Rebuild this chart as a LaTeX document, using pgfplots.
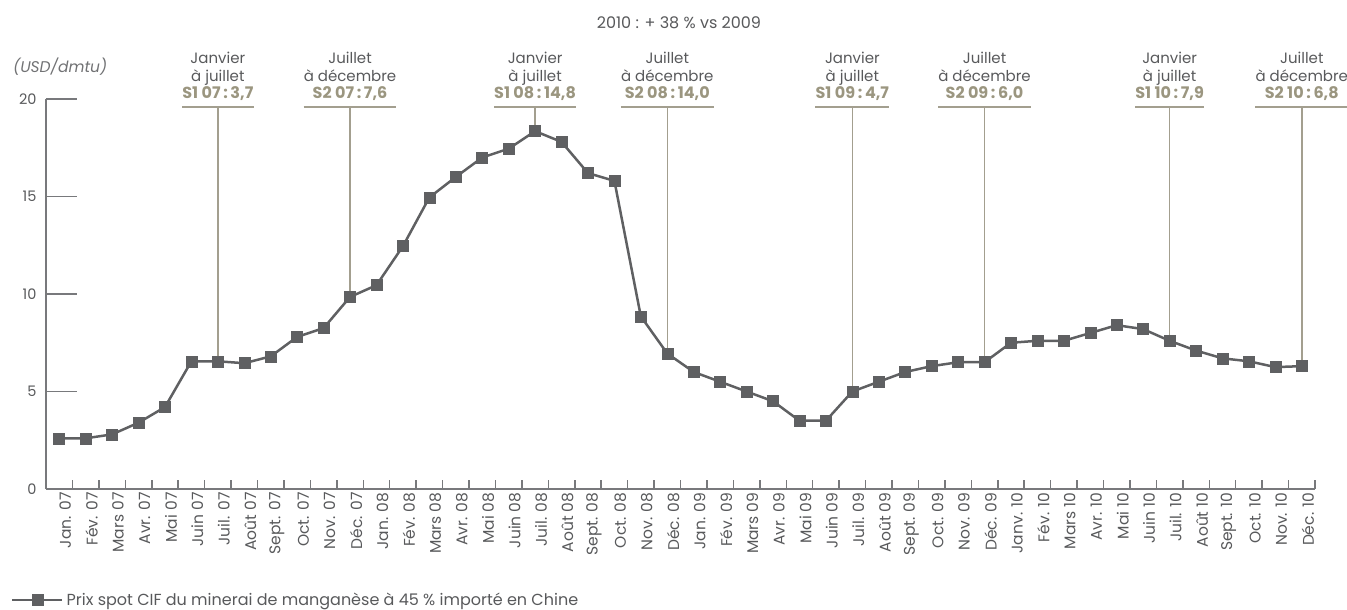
\documentclass[border=0pt]{standalone}
\usepackage{pgfplots}
\pgfplotsset{compat=1.18}
\usepackage{fontspec}
\setmainfont{Poppins}
\definecolor{txt}{RGB}{88,89,91}
\definecolor{tanc}{RGB}{155,150,128}
\definecolor{tanl}{RGB}{163,159,143}
\definecolor{ser}{RGB}{95,96,98}
\definecolor{axc}{RGB}{120,121,124}

\pgfplotstableread{
x y
0 2.6
1 2.6
2 2.8
3 3.4
4 4.2
5 6.55
6 6.55
7 6.45
8 6.8
9 7.8
10 8.25
11 9.85
12 10.45
13 12.45
14 14.95
15 16.0
16 17.0
17 17.45
18 18.35
19 17.8
20 16.2
21 15.8
22 8.85
23 6.95
24 6.0
25 5.5
26 5.0
27 4.5
28 3.5
29 3.5
30 5.0
31 5.5
32 6.0
33 6.3
34 6.5
35 6.5
36 7.5
37 7.6
38 7.6
39 8.0
40 8.4
41 8.2
42 7.6
43 7.1
44 6.7
45 6.55
46 6.25
47 6.3
}\datatable

\newcommand{\annot}[4]{%
 \draw[tanl, line width=1.5pt] (axis cs:#1,#2) -- (axis cs:#1,19.6);
 \coordinate (top#1) at (axis cs:#1,19.6);
 \node[anchor=south, align=center, inner sep=0pt, yshift=6pt, font=\fontsize{15}{17.5}\selectfont, text=txt] (lab#1) at (top#1) {#3\\{\fontsize{16}{17.5}\selectfont\bfseries\color{tanc}#4}};
 \draw[tanl, line width=1.5pt] (lab#1.west |- top#1) -- (lab#1.east |- top#1);
}

\begin{document}
\begin{tikzpicture}
\begin{axis}[
  name=ax,
  scale only axis,
  width=1269pt, height=390pt,
  xmin=-0.5, xmax=47.5, ymin=0, ymax=20,
  clip=false,
  axis x line=bottom, axis y line=left,
  axis line style={-, axc, line width=1.5pt},
  tick align=inside,
  ytick={0,5,10,15,20},
  major tick length=31pt,
  minor tick length=9pt,
  xtick={0,...,47},
  major x tick style={draw=none},
  minor xtick={0.5,1.5,...,47.5},
  minor x tick style={axc, line width=1.5pt},
  major y tick style={axc, line width=1.5pt},
  /pgf/number format/assume math mode=true,
  ticklabel style={text=txt},
  yticklabel style={xshift=-6pt, font=\fontsize{14.5}{16}\selectfont},
  xticklabel style={rotate=90, anchor=east, yshift=-6pt, font=\fontsize{15.5}{17}\selectfont},
  xticklabels={Jan. 07,Fév. 07,Mars 07,Avr. 07,Mai 07,Juin 07,Juil. 07,Août 07,Sept. 07,Oct. 07,Nov. 07,Déc. 07,
    Jan. 08,Fév. 08,Mars 08,Avr. 08,Mai 08,Juin 08,Juil. 08,Août 08,Sept. 08,Oct. 08,Nov. 08,Déc. 08,
    Jan. 09,Fév. 09,Mars 09,Avr. 09,Mai 09,Juin 09,Juil. 09,Août 09,Sept. 09,Oct. 09,Nov. 09,Déc. 09,
    Janv. 10,Fév. 10,Mars 10,Avr. 10,Mai 10,Juin 10,Juil. 10,Août 10,Sept. 10,Oct. 10,Nov. 10,Déc. 10},
  legend style={draw=none, fill=none, at={(axis cs:-0.5,0)}, anchor=west, xshift=-35pt, yshift=-111pt,
    inner sep=0pt, font=\fontsize{16}{18}\selectfont, text=txt, nodes={inner sep=3pt}},
  legend cell align=left,
  legend image code/.code={\draw[mark repeat=2,mark phase=2,#1] plot coordinates {(0pt,0pt) (25pt,0pt) (50pt,0pt)};},
]
\annot{6}{6.55}{Janvier\\à juillet}{S1 07\,:\,3,7}
\annot{11}{9.85}{Juillet\\à décembre}{S2 07\,:\,7,6}
\annot{18}{18.35}{Janvier\\à juillet}{S1 08\,:\,14,8}
\annot{23}{6.95}{Juillet\\à décembre}{S2 08\,:\,14,0}
\annot{30}{5.0}{Janvier\\à juillet}{S1 09\,:\,4,7}
\annot{35}{6.5}{Juillet\\à décembre}{S2 09\,:\,6,0}
\annot{42}{7.6}{Janvier\\à juillet}{S1 10\,:\,7,9}
\annot{47}{6.3}{Juillet\\à décembre}{S2 10\,:\,6,8}
\addplot[ser, line width=2.5pt, mark=square*, mark size=5.5pt, mark options={solid, line width=0.5pt, fill=ser}] table[x=x,y=y] {\datatable};
\addlegendentry{Prix spot CIF du minerai de manganèse à 45 \% importé en Chine}
\node[anchor=center, text=txt, font=\fontsize{16}{18}\selectfont] at (axis cs:23.44,23.9) {2010 : + 38 \% vs 2009};
\node[anchor=west, inner sep=0pt, text=txt!85, font=\fontsize{15.5}{17}\selectfont\itshape] at (axis cs:-1.748,21.64) {(USD/dmtu)};
\end{axis}
\pgfresetboundingbox
\path[use as bounding box] ([shift={(-46pt,-121pt)}]ax.south west) rectangle ++(1347pt,610pt);
\end{tikzpicture}
\end{document}
